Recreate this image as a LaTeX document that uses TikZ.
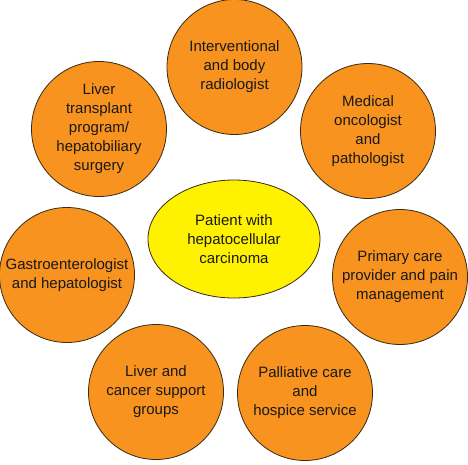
\documentclass[tikz,border=0pt]{standalone}
\usepackage{fontspec}
\setmainfont{Liberation Sans}
\usetikzlibrary{shapes.geometric}
\definecolor{orangefill}{HTML}{F7931E}
\definecolor{yellowfill}{HTML}{FFF200}
\definecolor{edgecol}{HTML}{3A2A10}
\begin{document}
\begin{tikzpicture}[x=1pt,y=-1pt,
  role/.style={circle, draw=edgecol, line width=0.8pt, fill=orangefill, minimum size=135pt, inner sep=0pt, align=center, font=\fontsize{15}{19}\selectfont, text=black!90},
  patient/.style={ellipse, draw=edgecol, line width=0.8pt, fill=yellowfill, minimum width=172pt, minimum height=118pt, inner sep=0pt, align=center, font=\fontsize{15}{19}\selectfont, text=black!90}]
\useasboundingbox (0,0) rectangle (468,464);
\fill[white] (0,0) rectangle (468,464);
\node[patient] (p) at (234,239) {Patient with\\hepatocellular\\carcinoma};
\node[role] (ir) at (234.5,67) {Interventional\\and body\\radiologist};
\node[role] (mo) at (368,131) {Medical\\oncologist\\and\\pathologist};
\node[role] (pc) at (400,277) {Primary care\\provider and pain\\management};
\node[role] (pal) at (305,393) {Palliative care\\and\\hospice service};
\node[role] (sg) at (156,392) {Liver and\\cancer support\\groups};
\node[role] (ge) at (67,275) {Gastroenterologist\\and hepatologist};
\node[role] (lt) at (99,129) {Liver\\transplant\\program/\\hepatobiliary\\surgery};
\end{tikzpicture}
\end{document}
